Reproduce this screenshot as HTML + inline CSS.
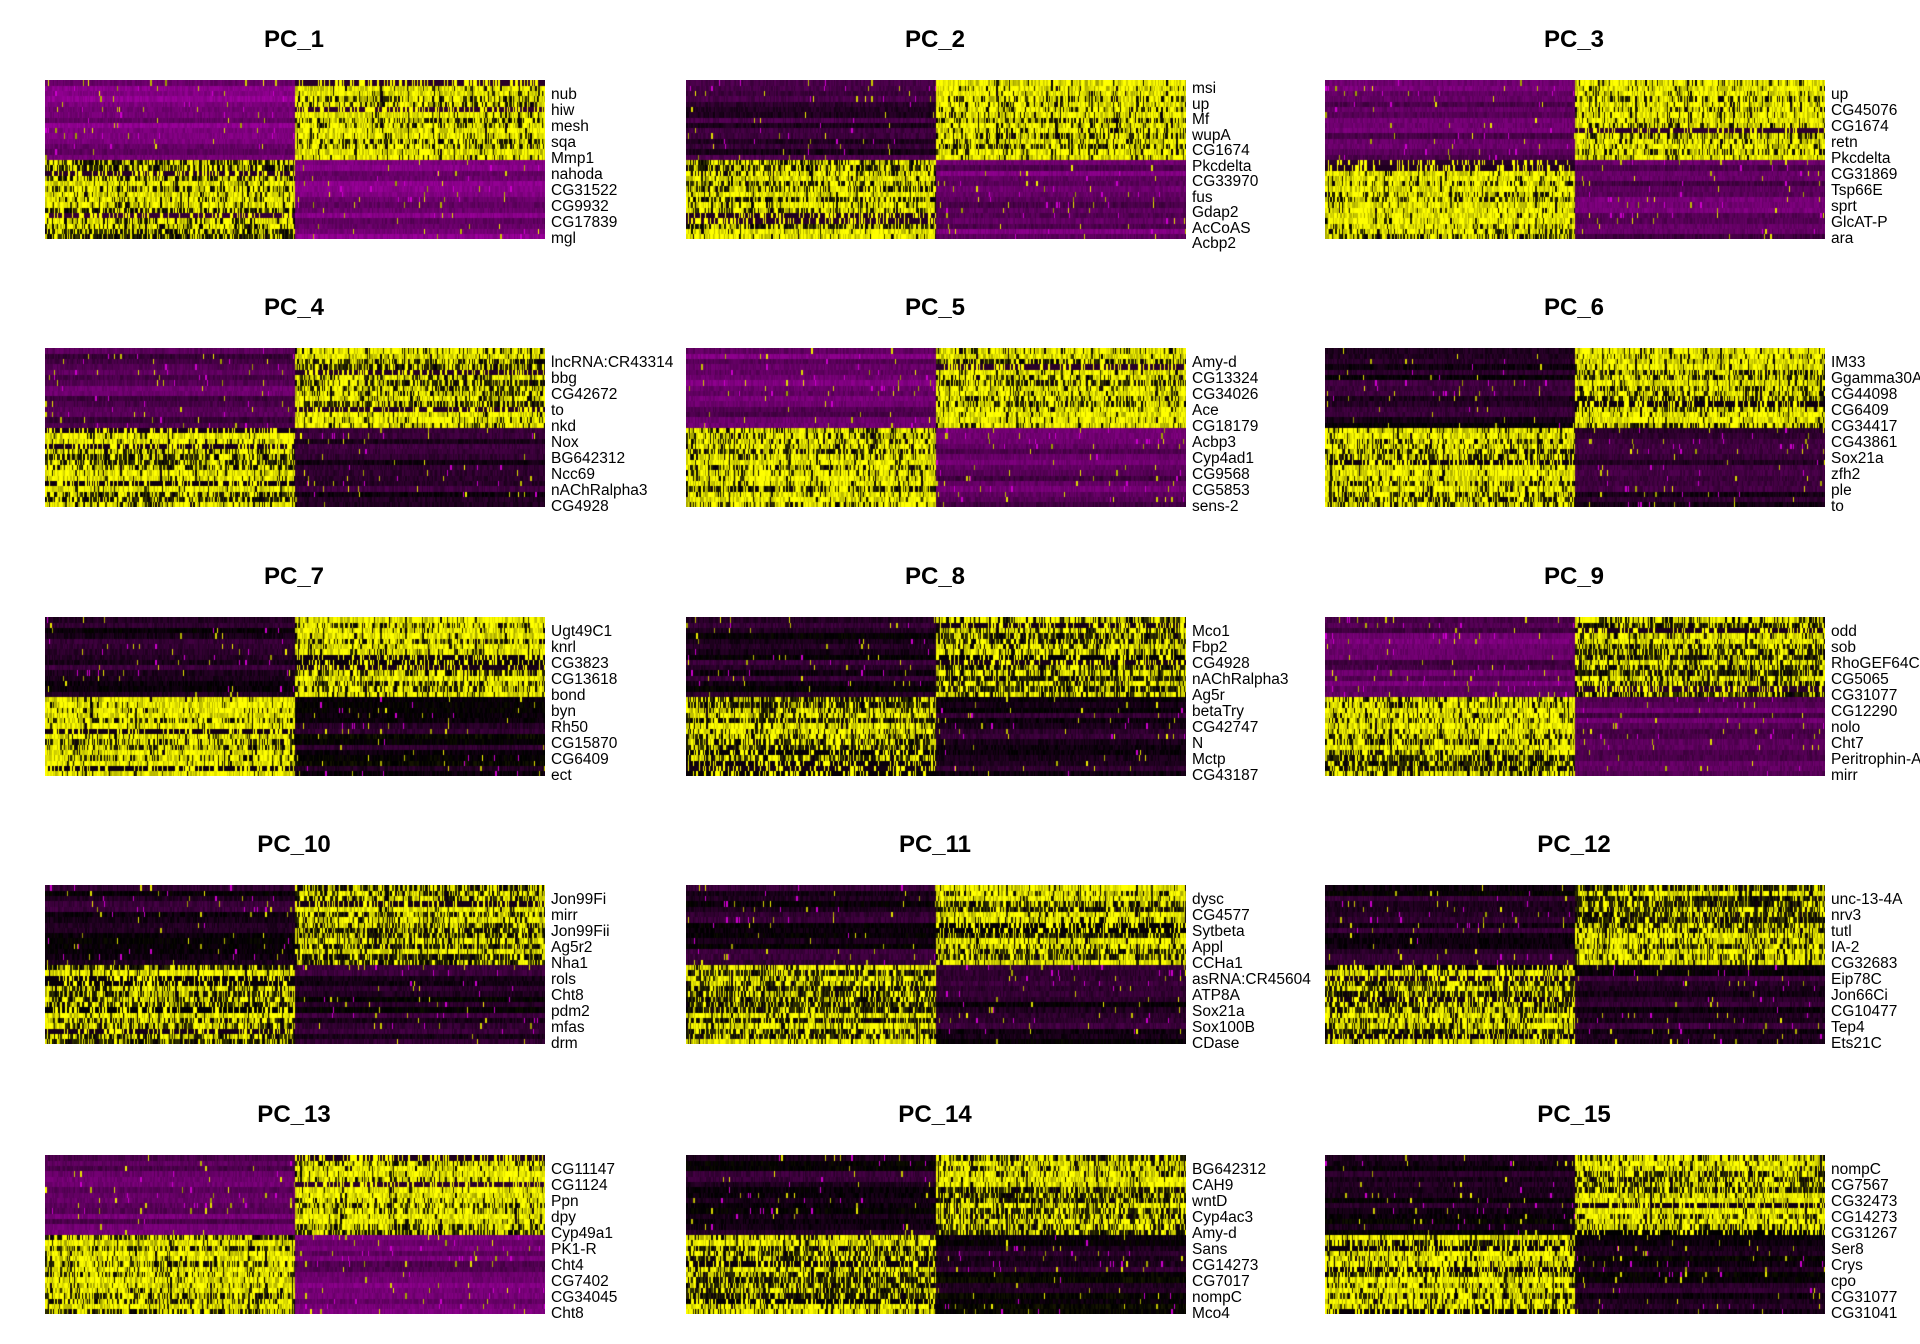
<!DOCTYPE html>
<html><head><meta charset="utf-8">
<style>
html,body{margin:0;padding:0;background:#fff;}
#root{position:relative;width:1920px;height:1344px;overflow:hidden;font-family:"Liberation Sans",Arial,sans-serif;}
.t{position:absolute;font-weight:bold;font-size:24px;transform:translateX(-50%);color:#000;}
.lab{position:absolute;font-size:15.5px;line-height:16px;color:#000;white-space:nowrap;}
canvas{position:absolute;}
</style></head><body><div id="root"></div>
<script>
(function(){
var labels=[
["nub","hiw","mesh","sqa","Mmp1","nahoda","CG31522","CG9932","CG17839","mgl"],
["msi","up","Mf","wupA","CG1674","Pkcdelta","CG33970","fus","Gdap2","AcCoAS","Acbp2"],
["up","CG45076","CG1674","retn","Pkcdelta","CG31869","Tsp66E","sprt","GlcAT-P","ara"],
["lncRNA:CR43314","bbg","CG42672","to","nkd","Nox","BG642312","Ncc69","nAChRalpha3","CG4928"],
["Amy-d","CG13324","CG34026","Ace","CG18179","Acbp3","Cyp4ad1","CG9568","CG5853","sens-2"],
["IM33","Ggamma30A","CG44098","CG6409","CG34417","CG43861","Sox21a","zfh2","ple","to"],
["Ugt49C1","knrl","CG3823","CG13618","bond","byn","Rh50","CG15870","CG6409","ect"],
["Mco1","Fbp2","CG4928","nAChRalpha3","Ag5r","betaTry","CG42747","N","Mctp","CG43187"],
["odd","sob","RhoGEF64C","CG5065","CG31077","CG12290","nolo","Cht7","Peritrophin-A","mirr"],
["Jon99Fi","mirr","Jon99Fii","Ag5r2","Nha1","rols","Cht8","pdm2","mfas","drm"],
["dysc","CG4577","Sytbeta","Appl","CCHa1","asRNA:CR45604","ATP8A","Sox21a","Sox100B","CDase"],
["unc-13-4A","nrv3","tutl","IA-2","CG32683","Eip78C","Jon66Ci","CG10477","Tep4","Ets21C"],
["CG11147","CG1124","Ppn","dpy","Cyp49a1","PK1-R","Cht4","CG7402","CG34045","Cht8"],
["BG642312","CAH9","wntD","Cyp4ac3","Amy-d","Sans","CG14273","CG7017","nompC","Mco4"],
["nompC","CG7567","CG32473","CG14273","CG31267","Ser8","Crys","cpo","CG31077","CG31041"]];
var params=[[-1.2,-1.2,.7],[-.5,-1.0,.7],[-1.0,-.9,.85],[-.8,-.4,.7],[-1.0,-.9,.75],[-.35,-.4,.8],[-.3,-.2,.85],[-.3,-.3,.6],[-.9,-.9,.6],[-.3,-.3,.6],[-.3,-.3,.6],[-.3,-.3,.55],[-1.0,-1.0,.8],[-.3,-.2,.6],[-.2,-.2,.75]];
var colX=[45,686,1325], rowY=[80,348,617,885,1155];
var seed=12345;function rnd(){seed=(seed*1103515245+12345)&0x7fffffff;return seed/0x7fffffff;}
var root=document.getElementById('root');
function col(v){v=Math.max(-2.5,Math.min(2.5,v));var r,g,b,a;if(v<0){a=-v/2.5;r=255*a;g=0;b=255*a;}else{a=v/2.5;r=255*a;g=255*a;b=0;}return [r|0,g|0,b|0];}
for(var p=0;p<15;p++){
 var cx=colX[p%3], cy=rowY[Math.floor(p/3)];
 var W=500,H=159;
 var c=document.createElement('canvas');c.width=W;c.height=H;c.style.left=cx+'px';c.style.top=cy+'px';root.appendChild(c);
 var ctx=c.getContext('2d');var img=ctx.createImageData(W,H);
 var pr=params[p];var NR=30,NC=400;
 var colf=[];for(var j=0;j<NC;j++)colf.push(rnd());
 var rows=[];
 for(var i=0;i<NR;i++){var isTop=i<15;var base=(isTop?pr[0]:pr[1])+(rnd()-.5)*0.6;var prob=Math.min(.98,Math.max(.1,pr[2]+(rnd()-.5)*0.7));var offhi=rnd()<0.1;rows.push([base,prob,offhi]);}
 var vals=[];
 for(var i=0;i<NR;i++){vals.push([]);for(var j=0;j<NC;j++){var isLeft=j<NC/2;var isTop=i<15;var hi=(isTop&&!isLeft)||(!isTop&&isLeft);var r=rows[i];var v;
  if(hi){ if(r[2]){v=(rnd()<.3)?2.5:r[0]*0.4;} else { var pp=r[1]*(0.7+0.6*colf[j]); v=(rnd()<pp)?(1.6+rnd()*1.5):(rnd()*0.8-0.2);} }
  else { v=r[0]+(rnd()-.5)*0.3; if(rnd()<0.015)v=1.5+rnd(); if(rnd()<0.008)v=-2; }
  vals[i].push(v);}}
 for(var y=0;y<H;y++){var ii=Math.min(NR-1,Math.floor(y*NR/H));for(var x=0;x<W;x++){var jj=Math.min(NC-1,Math.floor(x*NC/W));var cc=col(vals[ii][jj]);var k=(y*W+x)*4;img.data[k]=cc[0];img.data[k+1]=cc[1];img.data[k+2]=cc[2];img.data[k+3]=255;}}
 ctx.putImageData(img,0,0);
 var t=document.createElement('div');t.className='t';t.textContent='PC_'+(p+1);t.style.left=(cx+249)+'px';t.style.top=(cy-54)+'px';root.appendChild(t);
 var L=labels[p];var n=L.length;var step=(n>10)?15.5:16.05;var y0=(n>10)?cy+1:cy+7;
 for(var q=0;q<n;q++){var d=document.createElement('div');d.className='lab';d.textContent=L[q];d.style.left=(cx+506)+'px';d.style.top=(y0+q*step)+'px';root.appendChild(d);}
}
})();
</script></body></html>
